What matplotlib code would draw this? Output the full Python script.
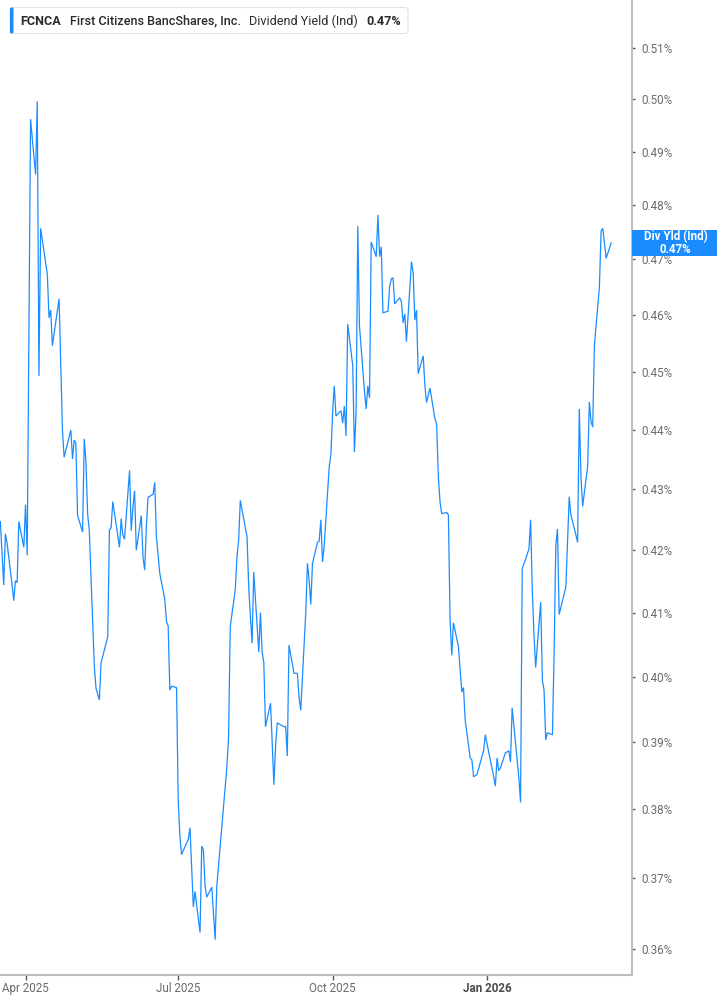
from __future__ import annotations

import matplotlib
matplotlib.use("Agg")
import matplotlib.dates as mdates
import matplotlib.pyplot as plt
import matplotlib.ticker as mticker
from matplotlib.patches import Rectangle, FancyBboxPatch
from matplotlib.transforms import IdentityTransform
import pandas as pd


FIG_W, FIG_H = 717, 1005
DPI = 100

TICKER = "FCNCA"
COMPANY = "First Citizens BancShares, Inc."
METRIC = "Dividend Yield (Ind)"
TAG_LABEL = "Div Yld (Ind)"

LINE_BLUE = "#1a8cff"
SPINE_GREY = "#bdbdbd"
TEXT_GREY = "#6b6b6b"

# daily dividend yield (%)
DATES = [
    "2025-03-17", "2025-03-19", "2025-03-20", "2025-03-21", "2025-03-24", "2025-03-25",
    "2025-03-26", "2025-03-27", "2025-03-28", "2025-03-31",
    "2025-04-01", "2025-04-02", "2025-04-04", "2025-04-07", "2025-04-08", "2025-04-09",
    "2025-04-10", "2025-04-14", "2025-04-15", "2025-04-16", "2025-04-17", "2025-04-21",
    "2025-04-22", "2025-04-23", "2025-04-24", "2025-04-28", "2025-04-29", "2025-04-30",
    "2025-05-01", "2025-05-02", "2025-05-05", "2025-05-06", "2025-05-07", "2025-05-08",
    "2025-05-09", "2025-05-12", "2025-05-13", "2025-05-15", "2025-05-16", "2025-05-20",
    "2025-05-21", "2025-05-22", "2025-05-23", "2025-05-27", "2025-05-28", "2025-05-29",
    "2025-05-30",
    "2025-06-02", "2025-06-03", "2025-06-04", "2025-06-05", "2025-06-06", "2025-06-09",
    "2025-06-10", "2025-06-11", "2025-06-12", "2025-06-13", "2025-06-16", "2025-06-17",
    "2025-06-18", "2025-06-20", "2025-06-23", "2025-06-24", "2025-06-25", "2025-06-26",
    "2025-06-27", "2025-06-30",
    "2025-07-01", "2025-07-02", "2025-07-03", "2025-07-07", "2025-07-08", "2025-07-09",
    "2025-07-10", "2025-07-11", "2025-07-14", "2025-07-15", "2025-07-16", "2025-07-17",
    "2025-07-18", "2025-07-21", "2025-07-22", "2025-07-23", "2025-07-24", "2025-07-25",
    "2025-07-28", "2025-07-29", "2025-07-30", "2025-07-31",
    "2025-08-01", "2025-08-04", "2025-08-05", "2025-08-06", "2025-08-07", "2025-08-08",
    "2025-08-11", "2025-08-12", "2025-08-13", "2025-08-14", "2025-08-15", "2025-08-18",
    "2025-08-19", "2025-08-20", "2025-08-21", "2025-08-22", "2025-08-25", "2025-08-26",
    "2025-08-27", "2025-08-28", "2025-08-29",
    "2025-09-02", "2025-09-03", "2025-09-04", "2025-09-05", "2025-09-08", "2025-09-09",
    "2025-09-10", "2025-09-11", "2025-09-12", "2025-09-15", "2025-09-16", "2025-09-17",
    "2025-09-18", "2025-09-19", "2025-09-22", "2025-09-23", "2025-09-24", "2025-09-25",
    "2025-09-26", "2025-09-29", "2025-09-30",
    "2025-10-01", "2025-10-02", "2025-10-03", "2025-10-06", "2025-10-07", "2025-10-08",
    "2025-10-09", "2025-10-10", "2025-10-13", "2025-10-14", "2025-10-15", "2025-10-16",
    "2025-10-17", "2025-10-20", "2025-10-21", "2025-10-22", "2025-10-23", "2025-10-24",
    "2025-10-27", "2025-10-28", "2025-10-29", "2025-10-30", "2025-10-31",
    "2025-11-03", "2025-11-04", "2025-11-05", "2025-11-06", "2025-11-07", "2025-11-10",
    "2025-11-11", "2025-11-12", "2025-11-13", "2025-11-14", "2025-11-17", "2025-11-18",
    "2025-11-19", "2025-11-20", "2025-11-21", "2025-11-24", "2025-11-25", "2025-11-26",
    "2025-11-28",
    "2025-12-01", "2025-12-02", "2025-12-03", "2025-12-04", "2025-12-05", "2025-12-08",
    "2025-12-09", "2025-12-10", "2025-12-11", "2025-12-12", "2025-12-15", "2025-12-16",
    "2025-12-17", "2025-12-18", "2025-12-19", "2025-12-22", "2025-12-23", "2025-12-24",
    "2025-12-26", "2025-12-29", "2025-12-30", "2025-12-31",
    "2026-01-02", "2026-01-05", "2026-01-06", "2026-01-07", "2026-01-08", "2026-01-09",
    "2026-01-12", "2026-01-13", "2026-01-14", "2026-01-15", "2026-01-16", "2026-01-20",
    "2026-01-21", "2026-01-22", "2026-01-23", "2026-01-26", "2026-01-27", "2026-01-28",
    "2026-01-29", "2026-01-30",
    "2026-02-02", "2026-02-03", "2026-02-04", "2026-02-05", "2026-02-06", "2026-02-09",
    "2026-02-10", "2026-02-11", "2026-02-12", "2026-02-13", "2026-02-17", "2026-02-18",
    "2026-02-19", "2026-02-20", "2026-02-23", "2026-02-24", "2026-02-25", "2026-02-26",
    "2026-02-27",
    "2026-03-02", "2026-03-03", "2026-03-04", "2026-03-05", "2026-03-06", "2026-03-09",
    "2026-03-10", "2026-03-11", "2026-03-13", "2026-03-16",
]

YIELD_PCT = [
    0.4247, 0.4144, 0.4227, 0.4212, 0.4144, 0.4119,
    0.4151, 0.4148, 0.4247, 0.4205,
    0.4275, 0.4192, 0.4962, 0.4857, 0.4996, 0.4493,
    0.4757, 0.4673, 0.4595, 0.4609, 0.4546, 0.4629,
    0.4511, 0.4400, 0.4354, 0.4400, 0.4351, 0.4383,
    0.4378, 0.4257, 0.4230, 0.4385, 0.4347, 0.4260,
    0.4233, 0.4016, 0.3982, 0.3964, 0.4021, 0.4062,
    0.4233, 0.4237, 0.4280, 0.4205, 0.4252, 0.4225,
    0.4218,
    0.4332, 0.4232, 0.4270, 0.4298, 0.4200, 0.4257,
    0.4189, 0.4168, 0.4238, 0.4287, 0.4292, 0.4312,
    0.4222, 0.4163, 0.4121, 0.4086, 0.4079, 0.3979,
    0.3985, 0.3983,
    0.3813, 0.3760, 0.3734, 0.3756, 0.3773, 0.3717,
    0.3659, 0.3681, 0.3623, 0.3746, 0.3741, 0.3689,
    0.3673, 0.3687, 0.3651, 0.3613, 0.3689, 0.3717,
    0.3803, 0.3833, 0.3863, 0.3908,
    0.4078, 0.4137, 0.4189, 0.4217, 0.4282, 0.4267,
    0.4222, 0.4141, 0.4094, 0.4052, 0.4165, 0.4038,
    0.4100, 0.4037, 0.4022, 0.3923, 0.3959, 0.3899,
    0.3836, 0.3893, 0.3929,
    0.3923, 0.3924, 0.3879, 0.4049, 0.4005, 0.4005,
    0.4005, 0.3968, 0.3948, 0.4100, 0.4179, 0.4152,
    0.4113, 0.4179, 0.4213, 0.4215, 0.4250, 0.4181,
    0.4208, 0.4339, 0.4359,
    0.4431, 0.4476, 0.4424, 0.4433, 0.4412, 0.4441,
    0.4390, 0.4584, 0.4511, 0.4363, 0.4431, 0.4761,
    0.4581, 0.4466, 0.4436, 0.4476, 0.4455, 0.4732,
    0.4705, 0.4782, 0.4705, 0.4723, 0.4604,
    0.4607, 0.4651, 0.4665, 0.4667, 0.4620, 0.4631,
    0.4624, 0.4586, 0.4602, 0.4553, 0.4696, 0.4676,
    0.4591, 0.4609, 0.4497, 0.4528, 0.4476, 0.4447,
    0.4472,
    0.4419, 0.4410, 0.4322, 0.4280, 0.4260, 0.4262,
    0.4258, 0.4089, 0.4033, 0.4084, 0.4046, 0.4010,
    0.3976, 0.3983, 0.3933, 0.3876, 0.3873, 0.3848,
    0.3851, 0.3878, 0.3887, 0.3911,
    0.3885, 0.3848, 0.3834, 0.3876, 0.3857, 0.3861,
    0.3884, 0.3885, 0.3887, 0.3870, 0.3952, 0.3846,
    0.3810, 0.4171, 0.4178, 0.4202, 0.4250, 0.4137,
    0.4065, 0.4014,
    0.4117, 0.3994, 0.3979, 0.3903, 0.3914, 0.3911,
    0.4037, 0.4207, 0.4235, 0.4097, 0.4141, 0.4213,
    0.4288, 0.4258, 0.4225, 0.4213, 0.4436, 0.4322,
    0.4272,
    0.4339, 0.4448, 0.4414, 0.4405, 0.4546, 0.4651,
    0.4752, 0.4757, 0.4702, 0.4730,
]

Y_TICKS = [0.36, 0.37, 0.38, 0.39, 0.40, 0.41, 0.42, 0.43,
           0.44, 0.45, 0.46, 0.47, 0.48, 0.49, 0.50, 0.51]
Y_LIMITS = (0.3564, 0.5196)

X_TICK_DATES = ["2025-04-01", "2025-07-01", "2025-10-01", "2026-01-01"]
X_TICK_LABELS = ["Apr 2025", "Jul 2025", "Oct 2025", "Jan 2026"]
X_LIMITS = ("2025-03-16 19:00", "2026-03-28 10:00")


def px(x: float, y_from_top: float) -> tuple[float, float]:
    # figure pixel coords with origin top-left -> display coords
    return x, FIG_H - y_from_top


def draw_header(fig, last_value: float) -> None:
    ident = IdentityTransform()
    left, top, right, bottom = 10, 7.5, 408, 33.5

    x0, y0 = px(left, bottom)
    box = FancyBboxPatch(
        (x0, y0), right - left, bottom - top,
        boxstyle="round,pad=0,rounding_size=3",
        transform=ident, fc="white", ec="#e2e2e2", lw=0.8, zorder=5,
    )
    fig.patches.append(box)
    bar = FancyBboxPatch(
        (x0, y0), 3.5, bottom - top,
        boxstyle="round,pad=0,rounding_size=1.5",
        transform=ident, fc=LINE_BLUE, ec="none", zorder=6,
    )
    fig.patches.append(bar)

    renderer = fig.canvas.get_renderer()
    pieces = [
        (TICKER, "bold"),
        (COMPANY, "medium"),
        (METRIC, "normal"),
        (f"{last_value:.2f}%", "bold"),
    ]
    x = 20.5
    _, yc = px(0, 21)
    for text, weight in pieces:
        t = fig.text(x, yc, text, transform=ident, fontsize=9.1, fontweight=weight,
                     color="#2b2b2b", va="center", ha="left", zorder=7)
        bb = t.get_window_extent(renderer)
        x = bb.x1 + 8.5


def draw_value_tag(fig, ax, last_date, last_value: float) -> None:
    ident = IdentityTransform()
    _, yc = ax.transData.transform((mdates.date2num(last_date), last_value))
    x_left = ax.transAxes.transform((1, 0))[0]
    h = 25.5
    tag = Rectangle((x_left, yc - h / 2), FIG_W - x_left, h, transform=ident,
                    fc=LINE_BLUE, ec="none", zorder=5)
    fig.patches.append(tag)
    xc = (x_left + FIG_W) / 2 + 1
    # two lines in one text so they share a block
    fig.text(xc, yc, f"{TAG_LABEL}\n{last_value:.2f}%", transform=ident,
             color="white", fontsize=8.3, fontweight="bold", ha="center",
             va="center", multialignment="center", linespacing=0.95, zorder=6)


def main() -> None:
    plt.rcParams["font.family"] = ["Roboto", "DejaVu Sans"]

    dates = pd.to_datetime(DATES)
    values = YIELD_PCT

    fig = plt.figure(figsize=(FIG_W / DPI, FIG_H / DPI), dpi=DPI)
    fig.patch.set_facecolor("white")
    ax = fig.add_axes([0, 30 / FIG_H, 632 / FIG_W, 975 / FIG_H])

    ax.plot(dates, values, color=LINE_BLUE, lw=0.9, solid_joinstyle="miter")

    ax.set_yscale("log")
    ax.set_ylim(*Y_LIMITS)
    ax.set_xlim(pd.Timestamp(X_LIMITS[0]), pd.Timestamp(X_LIMITS[1]))

    ax.yaxis.set_major_locator(mticker.FixedLocator(Y_TICKS))
    ax.yaxis.set_minor_locator(mticker.NullLocator())
    ax.yaxis.set_major_formatter(mticker.FuncFormatter(lambda v, _: f"{v:.2f}%"))
    ax.yaxis.tick_right()

    ax.xaxis.set_major_locator(mticker.FixedLocator(
        [mdates.date2num(pd.Timestamp(d)) for d in X_TICK_DATES]))
    ax.xaxis.set_minor_locator(mticker.NullLocator())
    ax.set_xticklabels(X_TICK_LABELS)

    for side in ["left", "top"]:
        ax.spines[side].set_visible(False)
    for side in ["right", "bottom"]:
        ax.spines[side].set_color(SPINE_GREY)
        ax.spines[side].set_linewidth(1.5)

    ax.tick_params(axis="y", which="major", length=2.5, width=1, color="#555555",
                   pad=4, labelsize=8.4, labelcolor=TEXT_GREY)
    ax.tick_params(axis="x", which="major", length=3.5, width=1, color="#555555",
                   pad=1.5, labelsize=8.4, labelcolor=TEXT_GREY)

    for lab in ax.get_xticklabels():
        if lab.get_text().startswith("Jan"):
            lab.set_fontweight("bold")
            lab.set_color("#4a4a4a")

    draw_header(fig, values[-1])
    draw_value_tag(fig, ax, dates[-1], values[-1])

    fig.savefig("out.png", dpi=DPI, facecolor="white")
    plt.close(fig)


if __name__ == "__main__":
    main()
